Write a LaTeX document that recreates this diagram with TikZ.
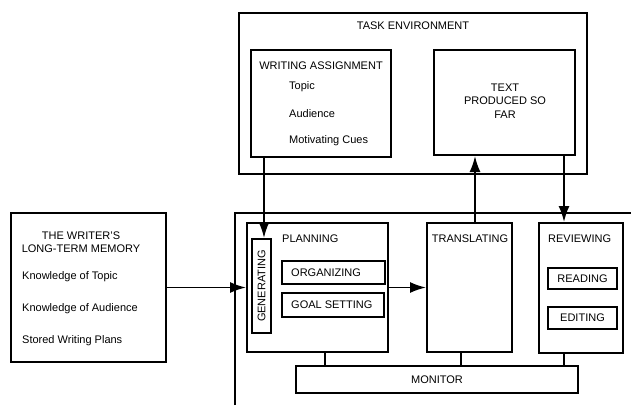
\documentclass[tikz,border=0pt]{standalone}
\usepackage{fontspec}
\setmainfont{Liberation Sans}
\usepackage{tikz}
\usetikzlibrary{arrows.meta, positioning}
\tikzstyle{box}=[draw=black,line width=2pt,inner sep=0pt]
\tikzstyle{lbl}=[inner sep=0pt,font=\fontsize{11}{13.5}\selectfont]
\tikzstyle{mainedge}=[-{Latex[length=16pt,width=11pt]},line width=1.8pt]
\tikzstyle{link}=[line width=1.8pt]

\begin{document}
\begin{tikzpicture}[x=1pt,y=-1pt]
\useasboundingbox (0,0) rectangle (631,405);
% task environment
\node[box,minimum width=348,minimum height=161] (taskenv) at (413,93.5) {};
\node[lbl] (tasklbl) at (413,26) {TASK ENVIRONMENT};
\node[box,minimum width=140,minimum height=107] (wa) at (321,103.5) {};
\node[lbl] (walbl) at (321,66) {WRITING ASSIGNMENT};
\node[lbl,anchor=west] (watopic) at (289,87) {Topic};
\node[lbl,anchor=west] (waaud) at (289,114) {Audience};
\node[lbl,anchor=west] (wacues) at (289,141) {Motivating Cues};
\node[box,minimum width=141,minimum height=105] (text) at (504.5,102.5) {};
\node[lbl,align=center] (textlbl) at (505,101) {TEXT\\PRODUCED SO\\FAR};
% long-term memory
\node[box,minimum width=155,minimum height=149] (mem) at (88.5,287.5) {};
\node[lbl,align=center] (memlbl) at (81,242) {THE WRITER'S\\LONG-TERM MEMORY};
\node[lbl,anchor=west] (memtopic) at (22,277) {Knowledge of Topic};
\node[lbl,anchor=west] (memaud) at (22,309) {Knowledge of Audience};
\node[lbl,anchor=west] (memplans) at (22,341) {Stored Writing Plans};
% writing process
\draw[line width=2pt] (235,405) -- (235,213) -- (631,213);
\node[box,minimum width=141,minimum height=129] (plan) at (317.5,287.5) {};
\node[lbl,anchor=west] (planlbl) at (282,239) {PLANNING};
\node[box,minimum width=19,minimum height=94] (gen) at (261.5,286) {};
\node[lbl,rotate=90] (genlbl) at (gen) {GENERATING};
\node[box,minimum width=103,minimum height=23] (org) at (333.5,272.5) {};
\node[lbl,anchor=west] (orglbl) at ([xshift=10pt]org.west) {ORGANIZING};
\node[box,minimum width=102,minimum height=24] (goal) at (333,305) {};
\node[lbl,anchor=west] (goallbl) at ([xshift=10pt]goal.west) {GOAL SETTING};
\node[box,minimum width=85,minimum height=129] (trans) at (469.5,287.5) {};
\node[lbl] (translbl) at (470,239) {TRANSLATING};
\node[box,minimum width=84,minimum height=130] (rev) at (581,288) {};
\node[lbl,anchor=west] (revlbl) at (548,239) {REVIEWING};
\node[box,minimum width=69,minimum height=21] (read) at (582.5,278.5) {};
\node[lbl] (readlbl) at (read) {READING};
\node[box,minimum width=69,minimum height=22] (edit) at (582.5,318) {};
\node[lbl] (editlbl) at (edit) {EDITING};
\node[box,minimum width=282,minimum height=27] (mon) at (437,379.5) {};
\node[lbl] (monlbl) at (mon) {MONITOR};
% connectors
\draw[mainedge] ([xshift=-57pt]wa.south) -- ([xshift=-57pt]wa.south |- gen.north);
\draw[mainedge] ([xshift=5.5pt]trans.north) -- ([xshift=5.5pt]trans.north |- text.south);
\draw[mainedge] ([xshift=-12pt]text.south east) -- ([xshift=-12pt]text.south east |- rev.north);
\draw[mainedge] (mem.east) -- (mem.east -| plan.west);
\draw[mainedge] (plan.east) -- (trans.west);
\draw[link] ([xshift=7.5pt]plan.south) -- ([xshift=7.5pt]plan.south |- mon.north);
\draw[link] ([xshift=-8.5pt]trans.south) -- ([xshift=-8.5pt]trans.south |- mon.north);
\draw[link] ([xshift=-17pt]rev.south) -- ([xshift=-17pt]rev.south |- mon.north);
\end{tikzpicture}
\end{document}
